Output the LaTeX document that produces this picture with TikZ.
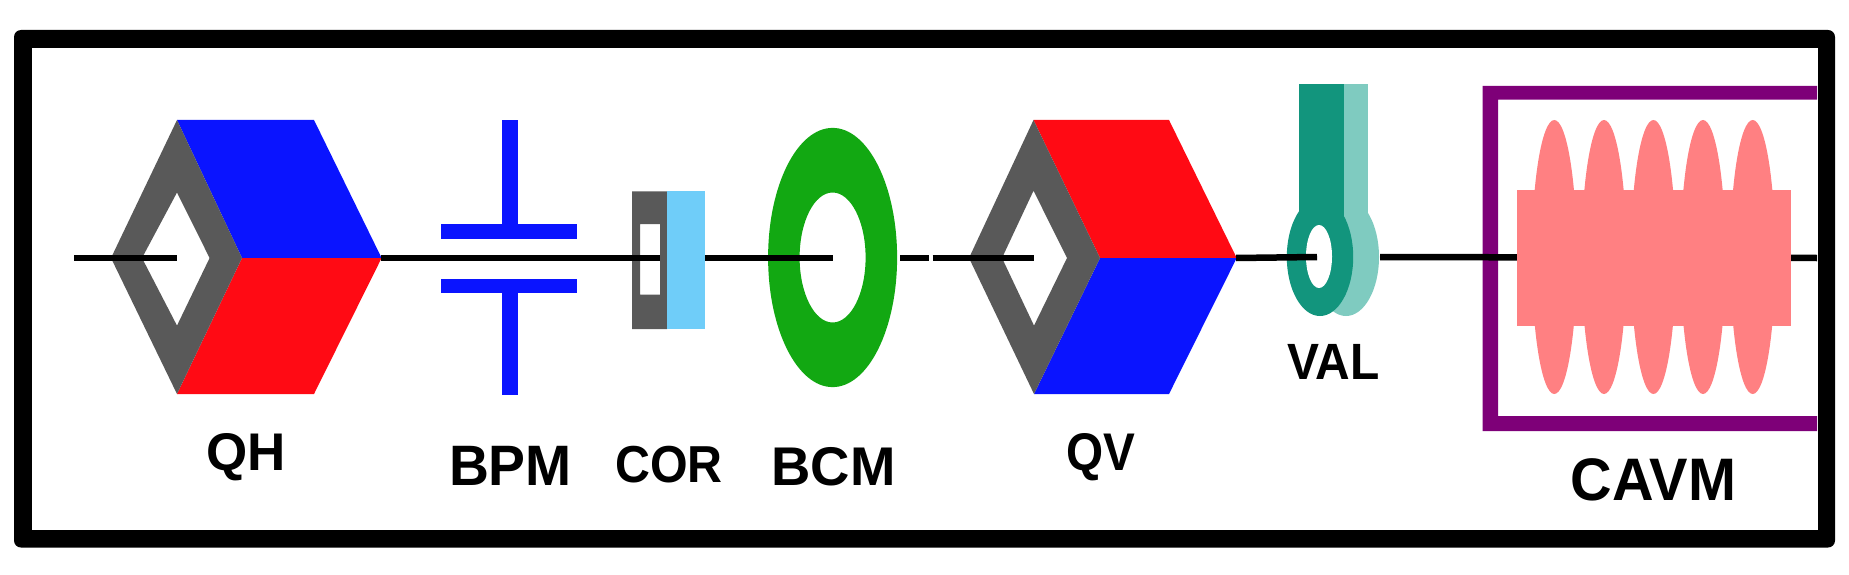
\documentclass[tikz,border=0pt]{standalone}
\usepackage{fontspec}
\setmainfont{Liberation Sans}
\definecolor{qblue}{HTML}{0A14FF}
\definecolor{qred}{HTML}{FF0A14}
\definecolor{qgray}{HTML}{595959}
\definecolor{bcmgreen}{HTML}{12A812}
\definecolor{corblue}{HTML}{6FCDF9}
\definecolor{valdark}{HTML}{12957D}
\definecolor{vallight}{HTML}{7FCBC0}
\definecolor{cavpurple}{HTML}{7E0078}
\definecolor{cavpink}{HTML}{FF8082}
\tikzset{
  beam/.style={line width=6.5pt,black},
  lab/.style={inner sep=0pt,anchor=base},
}
\newcommand{\labtext}[3]{\scalebox{#2}[1]{\fontsize{#1}{#1}\selectfont\bfseries #3}}
\begin{document}
\begin{tikzpicture}[x=1pt,y=-1pt]
\useasboundingbox (0,0) rectangle (1849,575);
% frame
\fill[black,rounded corners=7pt] (14,30) rectangle (1835,547.5);
\fill[white] (32,48) rectangle (1818,530);

% named beam points
\coordinate (qhin) at (74,258);
\coordinate (qhend) at (177,258);
\coordinate (qhout) at (381,258);
\coordinate (corin) at (660,258);
\coordinate (corout) at (705,258);
\coordinate (bcmend) at (832.6,258);
\coordinate (bcmout) at (900,258);
\coordinate (gapl) at (928.5,258);
\coordinate (qvin) at (932.6,258);
\coordinate (qvend) at (1033.5,258);
\coordinate (qvout) at (1236,258);
\coordinate (valin) at (1317,257);
\coordinate (valout) at (1380,257);
\coordinate (cavend) at (1817,258);

% QH
\fill[qblue] (177,120) -- (314,120) -- (381.6,258) -- (242,258) -- cycle;
\fill[qred] (177,394) -- (314,394) -- (381.6,258) -- (242,258) -- cycle;
\fill[qgray,even odd rule] (111,258) -- (177,120) -- (242,258) -- (177,394) -- cycle
   (142,258) -- (177,192.5) -- (209.6,258) -- (177,325.6) -- cycle;

% BPM
\fill[qblue] (502,120) rectangle (518,224);
\fill[qblue] (441,224) rectangle (577,238.5);
\fill[qblue] (441,279) rectangle (577,293);
\fill[qblue] (502,293) rectangle (518,395);

% COR
\fill[qgray,even odd rule] (632,191.4) rectangle (667,329) (640,224) rectangle (660,294.5);
\fill[corblue] (667,191.4) rectangle (705,329);

% BCM
\fill[bcmgreen,even odd rule] (832.6,257.5) ellipse [x radius=64.5,y radius=129.6]
   (832.6,257.5) ellipse [x radius=33,y radius=65];

% QV
\fill[qred] (1033.5,120) -- (1169,120) -- (1236.7,258) -- (1100,258) -- cycle;
\fill[qblue] (1034,394) -- (1169,394) -- (1236.7,258) -- (1100,258) -- cycle;
\fill[qgray,even odd rule] (969,258) -- (1033.5,120) -- (1100,258) -- (1034,394) -- cycle
   (1002,258) -- (1033.5,190.7) -- (1067,258) -- (1034,325.6) -- cycle;

% VAL
\fill[vallight] (1346,257) ellipse [x radius=33,y radius=59];
\fill[vallight] (1343.7,84) rectangle (1368,225);
\fill[valdark] (1298.5,84) rectangle (1343.7,225);
\fill[valdark] (1320,257) ellipse [x radius=33.2,y radius=59];
\fill[white] (1319,256.5) ellipse [x radius=13,y radius=31.5];

% CAVM box
\fill[cavpurple] (1482.7,86) -- (1817,86) -- (1817,99.7) -- (1498,99.7) -- (1498,416) -- (1817,416) -- (1817,431) -- (1482.7,431) -- cycle;

% beam
\draw[beam] (qhin) -- (qhend);
\draw[beam] (qhout) -- (corin);
\draw[beam] (corout) -- (bcmend);
\draw[beam] (bcmout) -- (gapl);
\draw[beam] (qvin) -- (qvend);
\draw[beam] (qvout) -- (valin);
\draw[beam] (valout) -- (cavend);

% CAVM body
\fill[cavpink] (1516.5,189.6) rectangle (1790.7,326.4);
\foreach \cx in {1554.3,1604,1653.4,1703,1752.7}
  \fill[cavpink] (\cx,257) ellipse [x radius=22.5,y radius=137];

% labels
\node[lab] (lqh) at (246.5,470.5) {\labtext{53}{1}{QH}};
\node[lab] (lbpm) at (510.5,485) {\labtext{57}{0.97}{BPM}};
\node[lab] (lcor) at (669,482) {\labtext{52}{0.93}{COR}};
\node[lab] (lbcm) at (833.5,485) {\labtext{54.5}{1}{BCM}};
\node[lab] (lqv) at (1100.5,470.5) {\labtext{53}{0.9}{QV}};
\node[lab] (lval) at (1333.5,379.5) {\labtext{51}{0.94}{VAL}};
\node[lab] (lcavm) at (1653.5,500.5) {\labtext{60}{0.96}{CAVM}};
\end{tikzpicture}
\end{document}
